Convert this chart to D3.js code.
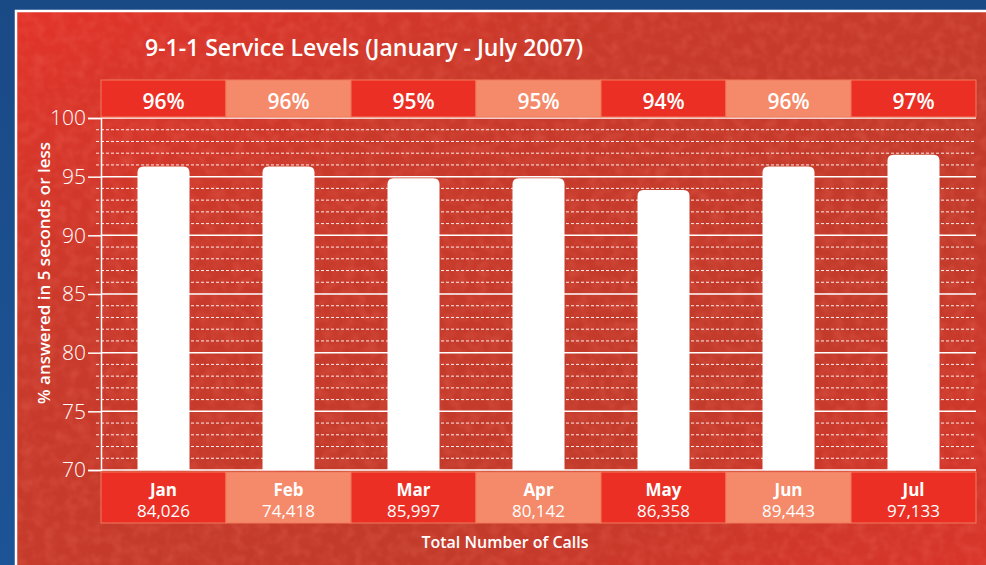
<!DOCTYPE html>
<html>
<head>
<meta charset="utf-8">
<script src="https://cdn.jsdelivr.net/npm/d3@7"></script>
<style>
  html, body { margin: 0; padding: 0; background: #1b4e8c; }
  #vis { width: 986px; height: 565px; }
</style>
</head>
<body>
<div id="vis"></div>
<script>
// dados
const meses = ["Jan", "Feb", "Mar", "Apr", "May", "Jun", "Jul"];
const percentuais = [96, 96, 95, 95, 94, 96, 97];
const chamadas = [84026, 74418, 85997, 80142, 86358, 89443, 97133];
const yTicks = [70, 75, 80, 85, 90, 95, 100];

const width = 986, height = 565;
const margins = { top: 118, right: 10, bottom: 95, left: 101 };
const fonte = "'Open Sans', 'Noto Sans', sans-serif";

const svg = d3.select("#vis").append("svg")
  .attr("width", width)
  .attr("height", height);

const defs = svg.append("defs");

// textura leve
const tex = defs.append("filter").attr("id", "tex").attr("x", 0).attr("y", 0).attr("width", "100%").attr("height", "100%");
tex.append("feTurbulence").attr("type", "fractalNoise").attr("baseFrequency", 0.09).attr("numOctaves", 2).attr("seed", 3).attr("result", "n");
tex.append("feColorMatrix").attr("in", "n").attr("type", "matrix")
  .attr("values", "0 0 0 0 0.95  0 0 0 0 0.2  0 0 0 0 0.15  0 0 0 -1.2 0.75");
tex.append("feComposite").attr("in2", "SourceGraphic").attr("operator", "in");

const grad = defs.append("linearGradient").attr("id", "painel").attr("x1", 0).attr("y1", 0).attr("x2", 1).attr("y2", 1);
grad.append("stop").attr("offset", "0%").attr("stop-color", "#e3332a");
grad.append("stop").attr("offset", "30%").attr("stop-color", "#c93a2b");
grad.append("stop").attr("offset", "70%").attr("stop-color", "#c23b2b");
grad.append("stop").attr("offset", "100%").attr("stop-color", "#d9352a");

const gradAzul = defs.append("linearGradient").attr("id", "azul").attr("x1", 0).attr("y1", 0).attr("x2", 0).attr("y2", 1);
gradAzul.append("stop").attr("offset", "0%").attr("stop-color", "#1a4a86");
gradAzul.append("stop").attr("offset", "100%").attr("stop-color", "#1d5497");

// fundo
svg.append("rect").attr("width", width).attr("height", height).attr("fill", "url(#azul)");
svg.append("rect").attr("x", 15).attr("y", 10).attr("width", width - 15).attr("height", height - 10)
  .attr("fill", "url(#painel)");
svg.append("rect").attr("x", 15).attr("y", 10).attr("width", width - 15).attr("height", height - 10)
  .attr("fill", "#fff").attr("filter", "url(#tex)").attr("opacity", 0.35);
svg.append("path")
  .attr("d", `M${16},${height} V${11} H${width}`)
  .attr("fill", "none").attr("stroke", "#fff").attr("stroke-width", 2.5);

// escalas
const xScale = d3.scaleBand()
  .domain(meses)
  .range([margins.left, width - margins.right]);

const yScale = d3.scaleLinear()
  .domain([70, 100])
  .range([height - margins.bottom, margins.top]);

const cores = (i) => i % 2 === 0 ? "#ec2f24" : "#f48a6a";

// titulo
svg.append("text")
  .attr("x", 145).attr("y", 56)
  .attr("fill", "#fff")
  .attr("font-family", fonte)
  .attr("font-weight", 600)
  .attr("font-size", "23px")
  .text("9-1-1 Service Levels (January - July 2007)");

// linhas de grade
const menores = d3.range(71, 100).filter(v => v % 5 !== 0);
svg.append("g").selectAll("line").data(menores).join("line")
  .attr("x1", 96).attr("x2", width - margins.right)
  .attr("y1", d => yScale(d)).attr("y2", d => yScale(d))
  .attr("stroke", "#fff").attr("stroke-width", 1)
  .attr("stroke-dasharray", "3,2").attr("opacity", 0.9);

svg.append("g").selectAll("line").data(yTicks.filter(v => v > 70)).join("line")
  .attr("x1", margins.left).attr("x2", width - margins.right)
  .attr("y1", d => yScale(d)).attr("y2", d => yScale(d))
  .attr("stroke", "#fff").attr("stroke-width", 1.5);

// eixo y
const eixoY = svg.append("g")
  .attr("transform", `translate(${margins.left}, 0)`)
  .call(d3.axisLeft(yScale).tickValues(yTicks).tickSize(13).tickPadding(2));
eixoY.select(".domain").attr("stroke", "#fff").attr("stroke-width", 1.5);
eixoY.selectAll(".tick line").attr("stroke", "#fff").attr("stroke-width", 1.5);
eixoY.selectAll(".tick text")
  .attr("fill", "#fff")
  .attr("font-family", fonte)
  .attr("font-weight", 300)
  .attr("font-size", "21px");

svg.append("text")
  .attr("transform", `translate(50, 273) rotate(-90)`)
  .attr("text-anchor", "middle")
  .attr("fill", "#fff")
  .attr("font-family", fonte)
  .attr("font-weight", 600)
  .attr("font-size", "17px")
  .text("% answered in 5 seconds or less");

// barras
const larguraBarra = 52, raio = 6;
const dados = meses.map((m, i) => ({ mes: m, pct: percentuais[i], total: chamadas[i] }));

function barraArredondada(d) {
  const x0 = xScale(d.mes) + (xScale.bandwidth() - larguraBarra) / 2;
  const x1 = x0 + larguraBarra;
  const y0 = yScale(d.pct) + 1.5;
  const yb = yScale(70);
  return `M${x0},${yb} V${y0 + raio} Q${x0},${y0} ${x0 + raio},${y0} H${x1 - raio} Q${x1},${y0} ${x1},${y0 + raio} V${yb} Z`;
}

svg.append("g").selectAll("path").data(dados).join("path")
  .attr("d", barraArredondada)
  .attr("fill", "#fff");

// linha base
svg.append("line")
  .attr("x1", margins.left).attr("x2", width - margins.right)
  .attr("y1", yScale(70)).attr("y2", yScale(70))
  .attr("stroke", "#fff").attr("stroke-width", 1.5);

// faixa superior (percentuais)
const topo = svg.append("g");
topo.selectAll("rect").data(dados).join("rect")
  .attr("x", d => xScale(d.mes))
  .attr("y", 80)
  .attr("width", xScale.bandwidth())
  .attr("height", margins.top - 81)
  .attr("fill", (d, i) => cores(i))
  .attr("stroke", "#f27a5c").attr("stroke-width", 1);
topo.selectAll("text").data(dados).join("text")
  .attr("x", d => xScale(d.mes) + xScale.bandwidth() / 2)
  .attr("y", 109)
  .attr("text-anchor", "middle")
  .attr("fill", "#fff")
  .attr("font-family", fonte)
  .attr("font-weight", 600)
  .attr("font-size", "21px")
  .text(d => `${d.pct}%`);

// faixa inferior (chamadas)
const base = svg.append("g");
base.selectAll("rect").data(dados).join("rect")
  .attr("x", d => xScale(d.mes))
  .attr("y", yScale(70) + 2)
  .attr("width", xScale.bandwidth())
  .attr("height", 51)
  .attr("fill", (d, i) => cores(i))
  .attr("stroke", "#f27a5c").attr("stroke-width", 1);
base.selectAll("text.mes").data(dados).join("text")
  .attr("class", "mes")
  .attr("x", d => xScale(d.mes) + xScale.bandwidth() / 2)
  .attr("y", 496)
  .attr("text-anchor", "middle")
  .attr("fill", "#fff")
  .attr("font-family", fonte)
  .attr("font-weight", 700)
  .attr("font-size", "17px")
  .text(d => d.mes);
base.selectAll("text.total").data(dados).join("text")
  .attr("class", "total")
  .attr("x", d => xScale(d.mes) + xScale.bandwidth() / 2)
  .attr("y", 517)
  .attr("text-anchor", "middle")
  .attr("fill", "#fff")
  .attr("font-family", fonte)
  .attr("font-weight", 400)
  .attr("font-size", "17px")
  .text(d => d3.format(",")(d.total));

svg.append("text")
  .attr("x", 505).attr("y", 548)
  .attr("text-anchor", "middle")
  .attr("fill", "#fff")
  .attr("font-family", fonte)
  .attr("font-weight", 600)
  .attr("font-size", "16px")
  .text("Total Number of Calls");
</script>
</body>
</html>
